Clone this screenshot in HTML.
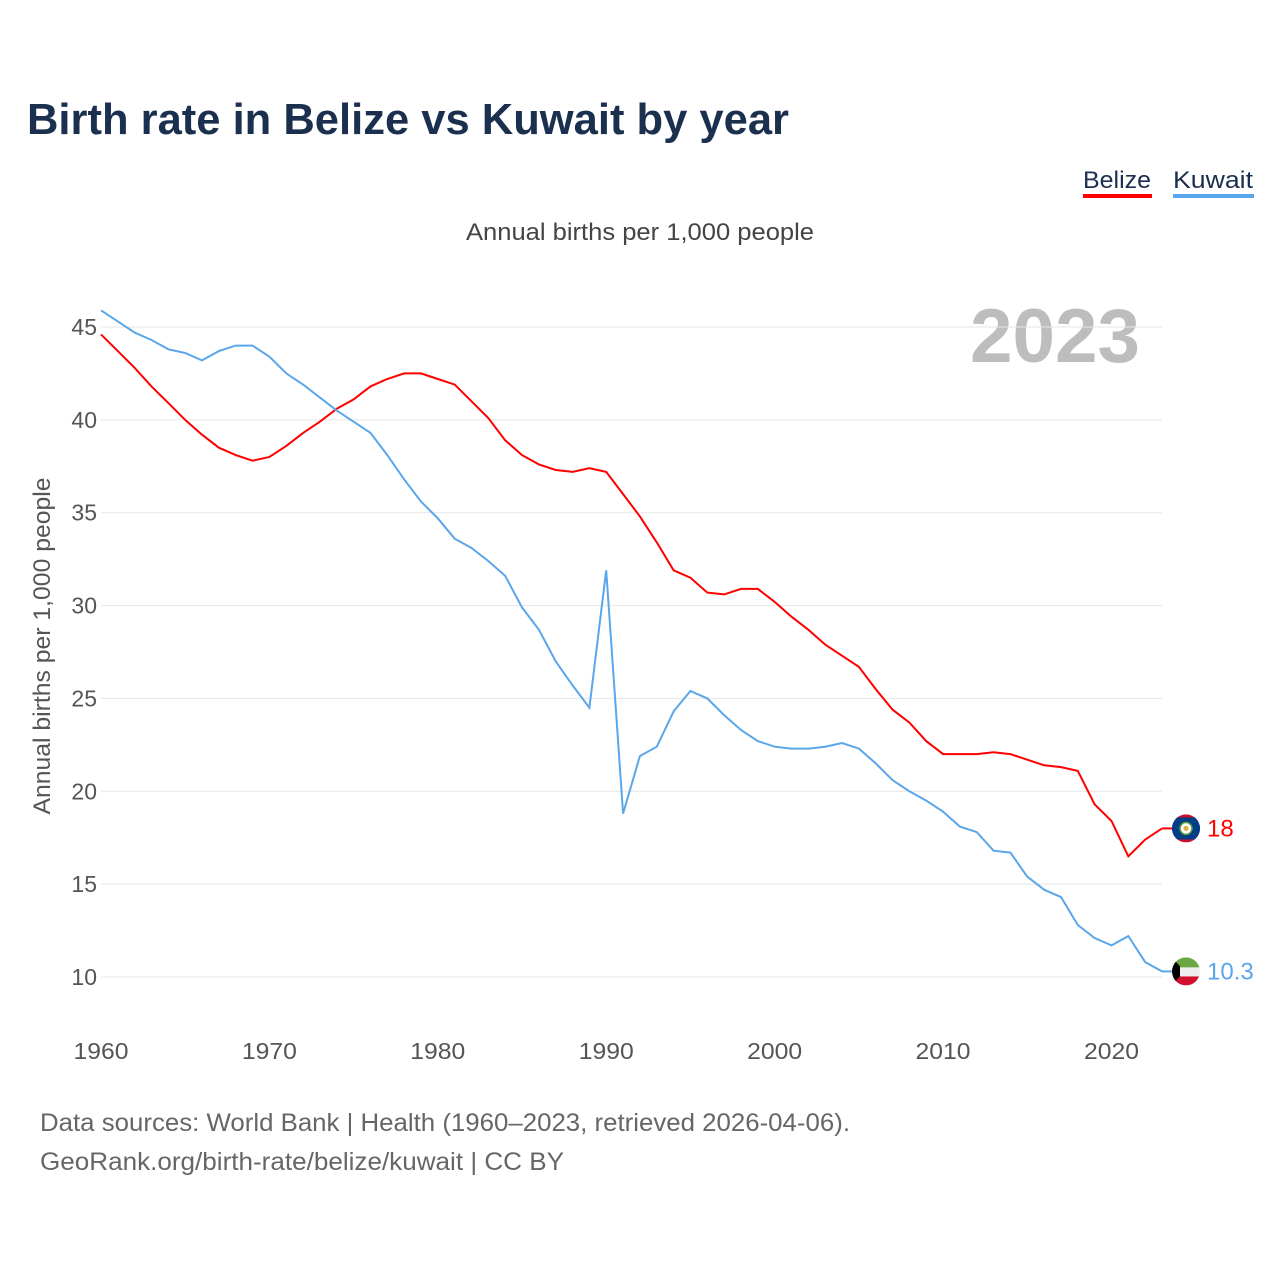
<!DOCTYPE html>
<html><head><meta charset="utf-8"><style>
body{margin:0;background:#fff;font-family:"Liberation Sans",sans-serif;}
svg{display:block}
</style></head><body>
<svg id="chart" width="1280" height="1280" viewBox="0 0 1280 1280">
<rect width="1280" height="1280" fill="#fff"/>
<text x="27" y="134" font-size="44" font-weight="bold" fill="#1b2f4e" textLength="762" lengthAdjust="spacingAndGlyphs">Birth rate in Belize vs Kuwait by year</text>
<g><text x="1083" y="188" font-size="24" fill="#1b2f4e" textLength="68" lengthAdjust="spacingAndGlyphs">Belize</text><rect x="1083" y="194" width="69" height="4" fill="#ff0000"/></g>
<g><text x="1173" y="188" font-size="24" fill="#1b2f4e" textLength="80" lengthAdjust="spacingAndGlyphs">Kuwait</text><rect x="1173" y="194" width="81" height="4" fill="#5aa6ea"/></g>
<text x="640" y="240" font-size="24" fill="#444" text-anchor="middle" textLength="348" lengthAdjust="spacingAndGlyphs">Annual births per 1,000 people</text>
<text x="1140" y="362" font-size="76" font-weight="bold" fill="#bdbdbd" text-anchor="end" textLength="170" lengthAdjust="spacingAndGlyphs">2023</text>
<text transform="translate(50,646) rotate(-90)" font-size="24" fill="#555" text-anchor="middle" textLength="337" lengthAdjust="spacingAndGlyphs">Annual births per 1,000 people</text>
<g id="grid"></g><g id="yt"></g><g id="xt"></g><g id="lines"></g><g id="ends"></g>
<text x="40" y="1131" font-size="25" fill="#666" textLength="810" lengthAdjust="spacingAndGlyphs">Data sources: World Bank | Health (1960–2023, retrieved 2026-04-06).</text>
<text x="40" y="1170" font-size="25" fill="#666" textLength="524" lengthAdjust="spacingAndGlyphs">GeoRank.org/birth-rate/belize/kuwait | CC BY</text>
</svg>
<script>
const years=[];for(let y=1960;y<=2023;y++)years.push(y);
const belize=[44.6,43.7,42.8,41.8,40.9,40.0,39.2,38.5,38.1,37.8,38.0,38.6,39.3,39.9,40.6,41.1,41.8,42.2,42.5,42.5,42.2,41.9,41.0,40.1,38.9,38.1,37.6,37.3,37.2,37.4,37.2,36.0,34.8,33.4,31.9,31.5,30.7,30.6,30.9,30.9,30.2,29.4,28.7,27.9,27.3,26.7,25.5,24.4,23.7,22.7,22.0,22.0,22.0,22.1,22.0,21.7,21.4,21.3,21.1,19.3,18.4,16.5,17.4,18.0];
const kuwait=[45.9,45.3,44.7,44.3,43.8,43.6,43.2,43.7,44.0,44.0,43.4,42.5,41.9,41.2,40.5,39.9,39.3,38.1,36.8,35.6,34.7,33.6,33.1,32.4,31.6,29.9,28.7,27.0,25.7,24.5,31.9,18.8,21.9,22.4,24.3,25.4,25.0,24.1,23.3,22.7,22.4,22.3,22.3,22.4,22.6,22.3,21.5,20.6,20.0,19.5,18.9,18.1,17.8,16.8,16.7,15.4,14.7,14.3,12.8,12.1,11.7,12.2,10.8,10.3];
const yTicks=[10,15,20,25,30,35,40,45];
const xTicks=[1960,1970,1980,1990,2000,2010,2020];
const endLabels=["18","10.3"];
const NS="http://www.w3.org/2000/svg";
const X=v=>101+(v-1960)*(1162-101)/63;
const Y=v=>977-(v-10)*(650/35);
function mk(t,a,p){const e=document.createElementNS(NS,t);for(const k in a)e.setAttribute(k,a[k]);p.appendChild(e);return e;}
const grid=document.getElementById('grid'),yt=document.getElementById('yt'),xt=document.getElementById('xt');
yTicks.forEach(v=>{
 const l=mk('line',{x1:101,x2:1162,y1:Y(v),y2:Y(v),stroke:'#e6e6e6','stroke-width':1},grid);
 
 
 const t=mk('text',{x:97,y:Y(v)+8,'font-size':23,fill:'#555','text-anchor':'end'},yt);t.textContent=v;
 
 
});
xTicks.forEach(v=>{
 const t=mk('text',{x:X(v),y:1059,'font-size':23,fill:'#555','text-anchor':'middle',textLength:55,lengthAdjust:'spacingAndGlyphs'},xt);t.textContent=v;
 
 
});
const lines=document.getElementById('lines');
[[belize,'#ff0000','belize-line'],[kuwait,'#5aa6ea','kuwait-line']].forEach(([d,c,n])=>{
 const p=mk('path',{d:d.map((v,i)=>(i?'L':'M')+X(years[i]).toFixed(1)+','+Y(v).toFixed(1)).join(''),fill:'none',stroke:c,'stroke-width':2},lines);
 
 
});
const ends=document.getElementById('ends');
const lb=belize[belize.length-1],lk=kuwait[kuwait.length-1];
mk('line',{x1:1162,x2:1175,y1:Y(lb),y2:Y(lb),stroke:'#ff0000','stroke-width':2},ends);
mk('line',{x1:1162,x2:1175,y1:Y(lk),y2:Y(lk),stroke:'#5aa6ea','stroke-width':2},ends);
const defs=mk('defs',{},ends);
const cb=mk('clipPath',{id:'bc'},defs);mk('circle',{cx:1186,cy:Y(lb),r:14},cb);
const ck=mk('clipPath',{id:'kc'},defs);mk('circle',{cx:1186,cy:Y(lk),r:14},ck);
// Belize flag
const bf=mk('g',{'clip-path':'url(#bc)'},ends);


mk('rect',{x:1172,y:Y(lb)-14,width:28,height:28,fill:'#c8102e'},bf);
mk('rect',{x:1172,y:Y(lb)-11,width:28,height:22,fill:'#003f87'},bf);
mk('circle',{cx:1186,cy:Y(lb),r:6,fill:'#fff',stroke:'#5a9a3a','stroke-width':1.5},bf);
mk('circle',{cx:1186,cy:Y(lb),r:2.5,fill:'#d8b040'},bf);
const tb=mk('text',{x:1207,y:Y(lb)+8,'font-size':24,fill:'#ff0000'},ends);tb.textContent=endLabels[0];


// Kuwait flag
const cy=Y(lk);
const kf=mk('g',{'clip-path':'url(#kc)'},ends);


mk('rect',{x:1172,y:cy-14,width:28,height:10,fill:'#6aa843'},kf);
mk('rect',{x:1172,y:cy-4,width:28,height:9,fill:'#eee'},kf);
mk('rect',{x:1172,y:cy+5,width:28,height:10,fill:'#d0102e'},kf);
mk('polygon',{points:`1172,${cy-14} 1180,${cy-5} 1180,${cy+5} 1172,${cy+14}`,fill:'#000'},kf);
const tk=mk('text',{x:1207,y:cy+8,'font-size':24,fill:'#5aa6ea'},ends);tk.textContent=endLabels[1];


</script>
</body></html>
